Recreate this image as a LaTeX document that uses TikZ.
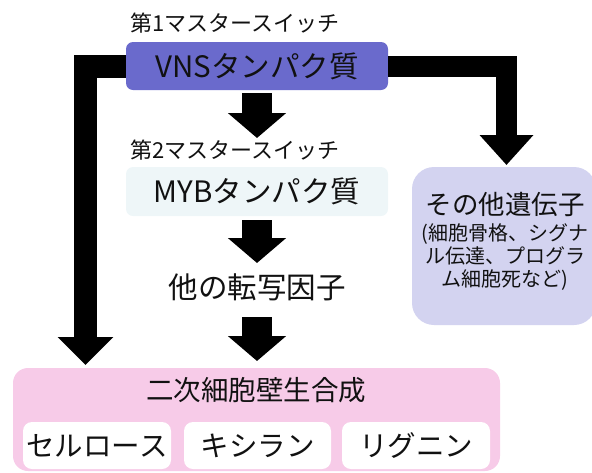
\documentclass[tikz,border=0pt]{standalone}
\usepackage{fontspec}
\setmainfont{Noto Sans CJK JP}
\usetikzlibrary{arrows.meta}
\definecolor{vnsc}{HTML}{6A6ACC}
\definecolor{mybc}{HTML}{EEF6F8}
\definecolor{othc}{HTML}{D3D3F0}
\definecolor{pinkc}{HTML}{F7CBE8}
\definecolor{txtc}{HTML}{111111}
\begin{document}
\begin{tikzpicture}[x=1pt,y=-1pt,
  every node/.style={text=txtc, inner sep=0pt},
  box/.style={rounded corners=7pt, minimum width=262pt, minimum height=48pt},
  subbox/.style={fill=white, rounded corners=9pt, minimum height=47pt, font=\fontsize{28.5pt}{30pt}\selectfont},
  swlabel/.style={font=\fontsize{22pt}{24pt}\selectfont},
  bigtxt/.style={font=\fontsize{29.5pt}{32pt}\selectfont},
  fatarrow/.style={line width=30pt, -{Triangle[width=57pt,length=25pt]}},
]
\useasboundingbox (0,0) rectangle (592,472);

% boxes
\node[box, fill=vnsc, bigtxt] (vns) at (257,66) {VNSタンパク質};
\node[box, fill=mybc, minimum height=49pt, bigtxt] (myb) at (257,191.5) {MYBタンパク質};
\node[swlabel] (lab1) at (235,23) {第1マスタースイッチ};
\node[swlabel] (lab2) at (235,150) {第2マスタースイッチ};
\node[bigtxt, minimum height=60pt] (tf) at (257,287) {他の転写因子};

\node[fill=othc, rounded corners=22pt, minimum width=184pt, minimum height=158pt] (oth) at (504,246) {};
\node[align=center, font=\fontsize{20pt}{23pt}\selectfont] (othtxt) at (505,241)
  {{\fontsize{26.5pt}{28pt}\selectfont その他遺伝子}\\[3pt](細胞骨格、シグナ\\ル伝達、プログラ\\ム細胞死など)};

\node[fill=pinkc, rounded corners=15pt, minimum width=487pt, minimum height=103pt] (wall) at (256.5,419.5) {};
\node[font=\fontsize{27.5pt}{30pt}\selectfont] (walltitle) at (256,390) {二次細胞壁生合成};
\node[subbox, minimum width=148pt] (cel) at (97,445.5) {セルロース};
\node[subbox, minimum width=147pt] (xyl) at (257.5,445.5) {キシラン};
\node[subbox, minimum width=148pt] (lig) at (416,445.5) {リグニン};

% arrow tips
\coordinate (t1) at (257,138);
\coordinate (t2) at (257,263);
\coordinate (t3) at (257,361);
\coordinate (tl) at (85.5,365);
\coordinate (tr) at (506.5,165);

% connectors
\draw[fatarrow, shorten <=3pt] (vns.south) -- (t1);
\draw[fatarrow, shorten <=4pt] (myb.south) -- (t2);
\draw[fatarrow] (tf.south) -- (t3);
\draw[line width=23pt, -{Triangle[width=54pt,length=28pt]}] (vns.west) -| (tl);
\draw[line width=21pt, -{Triangle[width=52pt,length=30pt]}] (vns.east) -| (tr);
\end{tikzpicture}
\end{document}
